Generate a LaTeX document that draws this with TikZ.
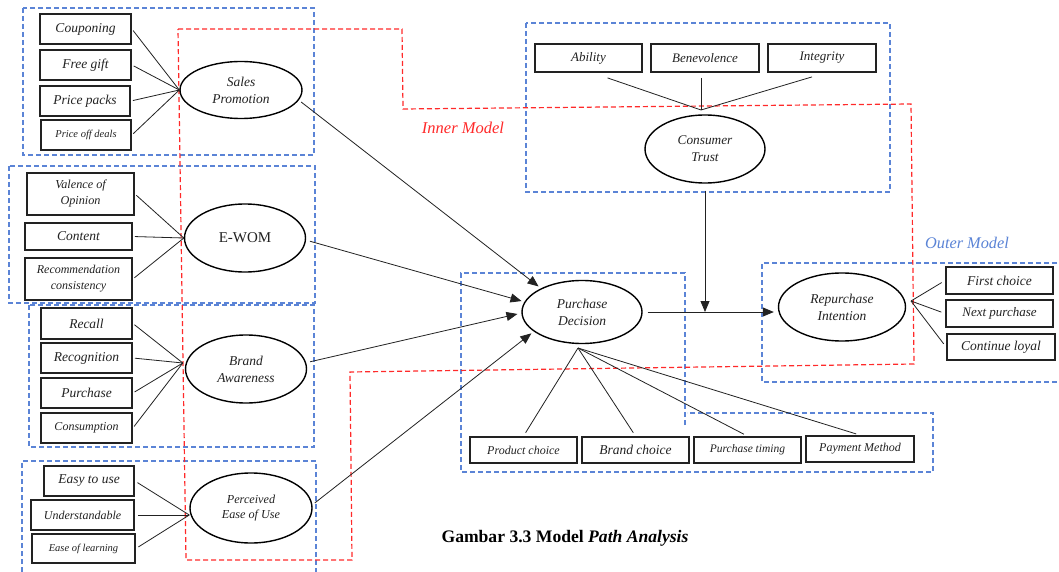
\documentclass[tikz,border=0pt]{standalone}
\usepackage{fontspec}
\setmainfont{Liberation Serif}
\usetikzlibrary{shapes.geometric,arrows.meta,calc}
\definecolor{rd}{HTML}{FF2A2A}
\definecolor{bl}{HTML}{5B84D6}
\definecolor{ink}{HTML}{222222}
\newcommand\fsz[2]{\fontsize{#1pt}{#2pt}\selectfont}
\begin{document}
\begin{tikzpicture}[x=1pt,y=-1pt,
  ind/.style={draw=ink, line width=1.8pt, inner sep=0pt, align=center, text=ink},
  lat/.style={draw=black, ellipse, line width=1.4pt, inner sep=0pt, align=center, text=ink},
  ln/.style={draw=ink, line width=0.8pt},
  arr/.style={ln, -{Triangle[length=11pt,width=9pt]}},
  rdash/.style={draw=rd, line width=1.2pt, dash pattern=on 5pt off 3pt},
  bdash/.style={draw=bl, line width=1.2pt, dash pattern=on 5pt off 3pt},
  f/.style={font=\itshape\fsz{#1}{16}},
  f2/.style={font=\itshape\fsz{#1}{17}},
]
\useasboundingbox (0,0) rectangle (1059,572);
\fill[white] (0,0) rectangle (1059,572);

% ---- dashed groups ----
\draw[bdash] (23,8) rectangle (314,155);
\draw[bdash] (9,166) rectangle (315,303);
\draw[bdash] (29,305) rectangle (314,447);
\draw[bdash] (22,580) -- (22,461) -- (316,461) -- (316,580);
\draw[bdash] (526,23) rectangle (890,192);
\draw[bdash] (685,425) -- (685,273) -- (461,273) -- (461,472) -- (933,472) -- (933,413) -- (687,413);
\draw[bdash] (1065,263) -- (762,263) -- (762,382) -- (1065,382);
\draw[rdash] (178,29) -- (402,29) -- (403,109) -- (911,104) -- (914,364) -- (350,372) -- (352,560) -- (186,560) -- cycle;

% ---- Sales Promotion ----
\node[ind, f=13.5, minimum width=91pt, minimum height=30pt] (cp) at (85.5,29) {Couponing};
\node[ind, f=13.5, minimum width=91pt, minimum height=30pt] (fg) at (85.5,65) {Free gift};
\node[ind, f=13.5, minimum width=90pt, minimum height=30pt] (pp) at (85,101) {Price packs};
\node[ind, f=10.5, minimum width=90pt, minimum height=30pt] (pod) at (86,135) {Price off deals};
\node[lat, f2=13.5, minimum width=122pt, minimum height=57pt] (sp) at (241,90) {Sales\\Promotion};

% ---- E-WOM ----
\node[ind, f=12.2, minimum width=107pt, minimum height=42pt] (vo) at (80.5,194) {Valence of\\Opinion};
\node[ind, f=13.5, minimum width=107pt, minimum height=27pt] (cnt) at (78.5,236.5) {Content};
\node[ind, f=12, minimum width=107pt, minimum height=42pt] (rc) at (78.5,279) {Recommendation\\consistency};
\node[lat, font=\fsz{15}{17}, minimum width=121pt, minimum height=68pt] (ew) at (245,238) {E-WOM};

% ---- Brand Awareness ----
\node[ind, f=13.5, minimum width=91pt, minimum height=31pt] (rcl) at (86.5,323.5) {Recall};
\node[ind, f=13.5, minimum width=91pt, minimum height=30pt] (rcg) at (86.5,358) {Recognition};
\node[ind, f=13.5, minimum width=91pt, minimum height=30pt] (pur) at (86.5,393) {Purchase};
\node[ind, f=12, minimum width=91pt, minimum height=30pt] (cons) at (86.5,428) {Consumption};
\node[lat, f2=13.5, minimum width=121pt, minimum height=68pt] (ba) at (246,369) {Brand\\Awareness};

% ---- Perceived Ease of Use ----
\node[ind, f=13.5, minimum width=90pt, minimum height=30pt] (etu) at (89,481) {Easy to use};
\node[ind, f=12, minimum width=103pt, minimum height=30pt] (und) at (82.5,515) {Understandable};
\node[ind, f=10.5, minimum width=103pt, minimum height=29pt] (eol) at (83.5,548.5) {Ease of learning};
\node[lat, font=\itshape\fsz{12.2}{15}, minimum width=122pt, minimum height=70pt] (peu) at (251,508) {Perceived\\Ease of Use};

% ---- Consumer Trust ----
\node[ind, f=13, minimum width=107pt, minimum height=28pt] (ab) at (588.5,58) {Ability};
\node[ind, f=13, minimum width=108pt, minimum height=28pt] (bn) at (705,58) {Benevolence};
\node[ind, f=13, minimum width=108pt, minimum height=28pt] (ig) at (822,58) {Integrity};
\node[lat, f2=13.3, minimum width=120pt, minimum height=68pt] (trust) at (705,149) {Consumer\\Trust};
\coordinate (tin) at (701,110);

% ---- Purchase Decision ----
\node[lat, f2=13.5, minimum width=120pt, minimum height=63pt] (pd) at (582,312) {Purchase\\Decision};
\node[ind, f=12, minimum width=107pt, minimum height=26pt] (prc) at (523.5,450) {Product choice};
\node[ind, f=13.5, minimum width=107pt, minimum height=26pt] (brc) at (635.5,450) {Brand choice};
\node[ind, f=11.5, minimum width=107pt, minimum height=26pt] (ptm) at (747.5,450) {Purchase timing};
\node[ind, f=12, minimum width=108pt, minimum height=26pt] (pm) at (860,449) {Payment Method};
\coordinate (pdb) at (578,348);

% ---- Repurchase Intention ----
\node[lat, f2=13.5, minimum width=127pt, minimum height=68pt] (ri) at (842,307) {Repurchase\\Intention};
\node[ind, f=13.5, minimum width=107pt, minimum height=27pt] (fc) at (999.5,280.5) {First choice};
\node[ind, f=13, minimum width=107pt, minimum height=27pt] (np) at (999.5,313.5) {Next purchase};
\node[ind, f=13.5, minimum width=108pt, minimum height=26pt] (cl) at (1001,347) {Continue loyal};
\coordinate (rie) at (911,301);

% ---- labels ----
\node[text=rd, font=\itshape\fsz{16.5}{18}] (inner) at (463,128) {Inner Model};
\node[text=bl, font=\itshape\fsz{16.3}{18}] (outer) at (967,243) {Outer Model};
\node[text=black, font=\bfseries\fsz{17.6}{20}] (cap) at (565,538) {Gambar 3.3 Model \textit{Path Analysis}};

% ---- indicator lines ----
\foreach \b in {cp,fg,pp,pod} \draw[ln, shorten <=2pt] (\b.east) -- (sp.west);
\foreach \b in {vo,cnt,rc} \draw[ln, shorten <=2pt] (\b.east) -- (ew.west);
\foreach \b in {rcl,rcg,pur,cons} \draw[ln, shorten <=2pt] (\b.east) -- ([xshift=-2pt,yshift=6pt]ba.west);
\foreach \b in {etu,und,eol} \draw[ln, shorten <=3pt] (\b.east) -- ([yshift=-7pt]peu.west);
\draw[ln] ([xshift=19pt,yshift=-5pt]ab.south) -- (tin);
\draw[ln] ([xshift=-4pt,yshift=-5pt]bn.south) -- (tin);
\draw[ln] ([xshift=-10pt,yshift=-4pt]ig.south) -- (tin);
\foreach \b in {prc,brc,ptm,pm} \draw[ln, shorten >=4pt] (pdb) -- (\b.north);
\foreach \b in {fc,np,cl} \draw[ln, shorten >=4pt] (rie) -- (\b.west);

% ---- structural paths ----
\draw[arr, shorten <=3pt, shorten >=3pt] (sp.350) -- (pd.150);
\draw[arr, shorten <=4pt, shorten >=3pt] (ew.358) -- (pd.170);
\draw[arr, shorten <=4pt, shorten >=4pt] (ba.6) -- (pd.181);
\draw[arr, shorten <=3pt, shorten >=3pt] (peu.3) -- (pd.202);
\draw[arr, shorten <=5pt, shorten >=4pt] (pd.east) -- (pd.east -| ri.west);
\draw[arr, shorten <=7pt] (trust.south) -- (trust.south |- pd.east);
\end{tikzpicture}
\end{document}
